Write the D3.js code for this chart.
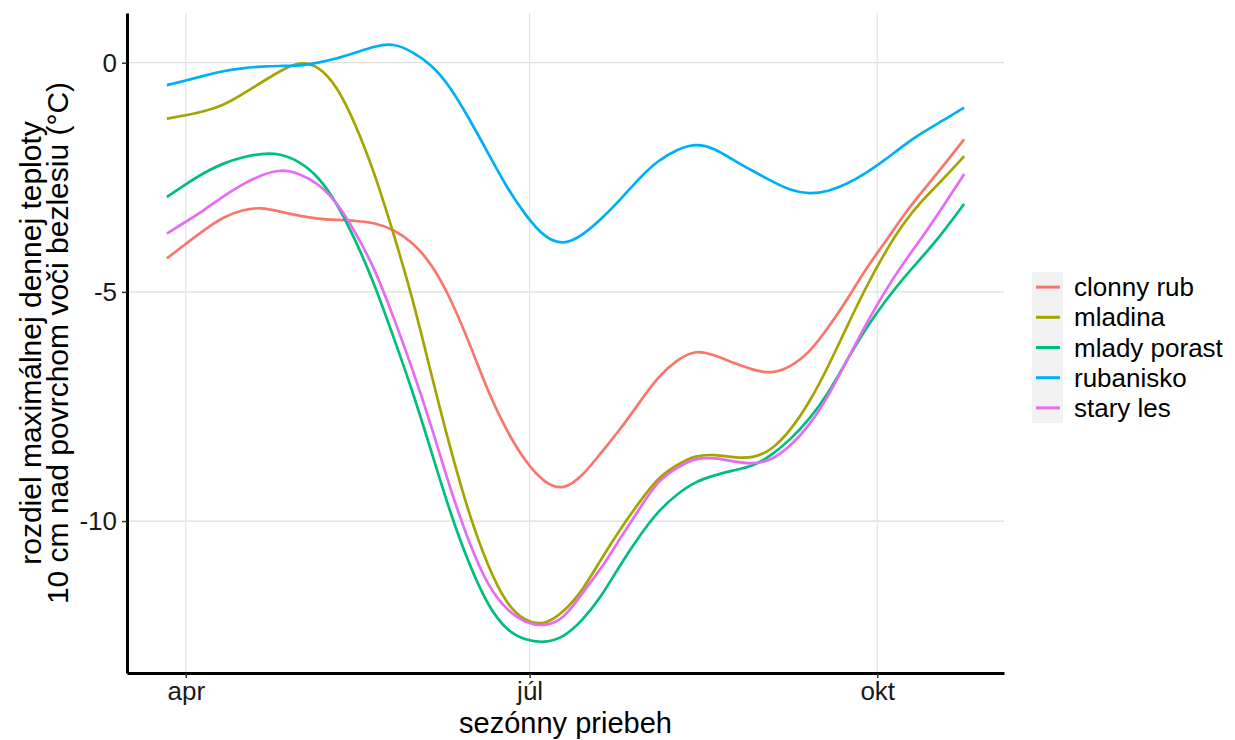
<!DOCTYPE html>
<html>
<head>
<meta charset="utf-8">
<script src="https://cdn.jsdelivr.net/npm/d3@7/dist/d3.min.js"></script>
<style>
  html, body { margin: 0; padding: 0; background: #ffffff; overflow: hidden; }
  svg { display: block; }
  text { font-family: "Liberation Sans", Arial, sans-serif; }
</style>
</head>
<body>
<div id="chart"></div>
<script>
// Sample days along the season (month-day, year is arbitrary)
var sampleDays = ["03-27", "04-01", "04-06", "04-11", "04-16", "04-21", "04-26", "05-01", "05-06", "05-11",
    "05-16", "05-21", "05-26", "05-31", "06-05", "06-10", "06-15", "06-20", "06-25", "06-30",
    "07-05", "07-10", "07-15", "07-20", "07-25", "07-30", "08-04", "08-09", "08-14", "08-19",
    "08-24", "08-29", "09-03", "09-08", "09-13", "09-18", "09-23", "09-28", "10-03", "10-08",
    "10-13", "10-18", "10-24"];

// Series names and their colours (ggplot default hues)
var seriesNames = ["clonny rub", "mladina", "mlady porast", "rubanisko", "stary les"];
var seriesColors = ["#F8766D", "#A3A500", "#00BF7D", "#00B0F6", "#E76BF3"];

// Smoothed difference of max daily temperature (°C)
var clonnyRub = [-4.27, -3.95, -3.64, -3.36, -3.21, -3.15, -3.25, -3.34, -3.41, -3.43,
    -3.45, -3.49, -3.64, -3.91, -4.38, -5.12, -6.10, -7.18, -8.05, -8.72,
    -9.18, -9.33, -9.02, -8.50, -8.00, -7.42, -6.85, -6.48, -6.26, -6.38,
    -6.55, -6.70, -6.79, -6.64, -6.33, -5.79, -5.18, -4.49, -3.93, -3.32,
    -2.80, -2.30, -1.67];
var mladina = [-1.22, -1.15, -1.06, -0.93, -0.69, -0.43, -0.18, 0.03, -0.06, -0.50,
    -1.35, -2.41, -3.73, -5.12, -6.81, -8.42, -9.87, -11.00, -11.84, -12.20,
    -12.27, -11.99, -11.52, -10.82, -10.17, -9.59, -9.05, -8.77, -8.56, -8.55,
    -8.61, -8.63, -8.46, -8.03, -7.42, -6.64, -5.75, -4.90, -4.14, -3.49,
    -2.99, -2.58, -2.04];
var mladyPorast = [-2.93, -2.65, -2.39, -2.19, -2.06, -1.98, -1.98, -2.15, -2.47, -3.06,
    -3.88, -4.84, -5.99, -7.16, -8.48, -9.83, -10.95, -11.86, -12.40, -12.60,
    -12.66, -12.54, -12.17, -11.65, -10.95, -10.33, -9.78, -9.41, -9.13, -9.00,
    -8.89, -8.81, -8.57, -8.22, -7.79, -7.22, -6.49, -5.79, -5.21, -4.69,
    -4.23, -3.75, -3.08];
var rubanisko = [-0.49, -0.39, -0.28, -0.18, -0.12, -0.08, -0.07, -0.07, 0.00, 0.09,
    0.22, 0.36, 0.43, 0.24, -0.04, -0.52, -1.22, -1.97, -2.73, -3.34,
    -3.82, -3.98, -3.77, -3.41, -2.99, -2.52, -2.13, -1.89, -1.76, -1.87,
    -2.13, -2.36, -2.58, -2.79, -2.87, -2.81, -2.65, -2.41, -2.13, -1.80,
    -1.52, -1.28, -0.98];
var staryLes = [-3.73, -3.47, -3.21, -2.91, -2.65, -2.45, -2.32, -2.41, -2.63, -3.04,
    -3.71, -4.49, -5.55, -6.68, -7.92, -9.31, -10.48, -11.43, -11.95, -12.23,
    -12.30, -12.15, -11.56, -11.04, -10.37, -9.74, -9.11, -8.83, -8.62, -8.62,
    -8.70, -8.76, -8.68, -8.37, -7.92, -7.29, -6.49, -5.71, -4.99, -4.36,
    -3.80, -3.19, -2.43];

// Axis ticks
var yTicks = [0, -5, -10];
var yTickLabels = ["0", "-5", "-10"];
var xTickDays = ["04-01", "07-01", "10-01"];
var xTickLabels = ["apr", "júl", "okt"];

var seriesValues = [clonnyRub, mladina, mladyPorast, rubanisko, staryLes];

// Page size and panel edges (absolute page coordinates)
var width = 1235, height = 740;
var panel = { left: 127, right: 1004, top: 13, bottom: 673 };

var parseDay = d3.timeParse("%Y-%m-%d");
var dates = sampleDays.map(d => parseDay("2019-" + d));
var tickDates = xTickDays.map(d => parseDay("2019-" + d));

// ggplot style 5% expansion of both scales
var dateExtent = d3.extent(dates);
var datePad = (dateExtent[1] - dateExtent[0]) * 0.05;
var x = d3.scaleTime()
    .domain([new Date(+dateExtent[0] - datePad), new Date(+dateExtent[1] + datePad)])
    .range([panel.left, panel.right]);

var allValues = [].concat.apply([], seriesValues);
var yMin = d3.min(allValues), yMax = d3.max(allValues);
var yPad = (yMax - yMin) * 0.05;
var y = d3.scaleLinear()
    .domain([yMin - yPad, yMax + yPad])
    .range([panel.bottom, panel.top]);

var svg = d3.select("#chart")
    .append("svg")
    .attr("width", width)
    .attr("height", height)
    .attr("viewBox", `0 0 ${width} ${height}`)
    .style("background", "#ffffff");

// Grid lines
svg.append("g")
    .selectAll("line")
    .data(yTicks)
    .enter().append("line")
    .attr("x1", panel.left).attr("x2", panel.right)
    .attr("y1", d => y(d)).attr("y2", d => y(d))
    .attr("stroke", "#dedede")
    .attr("stroke-width", 1.2);

svg.append("g")
    .selectAll("line")
    .data(tickDates)
    .enter().append("line")
    .attr("x1", d => x(d)).attr("x2", d => x(d))
    .attr("y1", panel.top).attr("y2", panel.bottom)
    .attr("stroke", "#e4e4e4")
    .attr("stroke-width", 1.2);

// Lines (basis curve to get the smooth loess look)
var line = d3.line()
    .x((d, i) => x(dates[i]))
    .y(d => y(d))
    .curve(d3.curveBasis);

svg.append("g")
    .selectAll("path")
    .data(seriesValues)
    .enter().append("path")
    .attr("d", line)
    .attr("fill", "none")
    .attr("stroke", (d, i) => seriesColors[i])
    .attr("stroke-width", 2.7)
    .attr("stroke-linejoin", "round");

// Axes
var yAxis = svg.append("g")
    .attr("transform", `translate(${panel.left}, 0)`)
    .call(d3.axisLeft(y).tickValues(yTicks).tickFormat((d, i) => yTickLabels[i]).tickSize(5).tickSizeOuter(0).tickPadding(5));

var xAxis = svg.append("g")
    .attr("transform", `translate(0, ${panel.bottom})`)
    .call(d3.axisBottom(x).tickValues(tickDates).tickFormat((d, i) => xTickLabels[i]).tickSize(5).tickSizeOuter(0).tickPadding(4));

[yAxis, xAxis].forEach(function (ax) {
    ax.attr("font-size", null).attr("font-family", null);
    ax.select(".domain").attr("stroke", "#000").attr("stroke-width", 3);
    ax.selectAll(".tick line").attr("stroke", "#333").attr("stroke-width", 1.5);
    ax.selectAll(".tick text")
        .attr("fill", "#1a1a1a")
        .attr("font-size", 26);
});

// Axis titles
svg.append("text")
    .attr("x", (panel.left + panel.right) / 2)
    .attr("y", 733)
    .attr("text-anchor", "middle")
    .attr("fill", "#000")
    .attr("font-size", 29)
    .text("sezónny priebeh");

var yMid = (panel.top + panel.bottom) / 2;
svg.append("text")
    .attr("transform", `translate(41, ${yMid}) rotate(-90)`)
    .attr("text-anchor", "middle")
    .attr("fill", "#000")
    .attr("font-size", 30)
    .text("rozdiel maximálnej dennej teploty");

svg.append("text")
    .attr("transform", `translate(68, ${yMid}) rotate(-90)`)
    .attr("text-anchor", "middle")
    .attr("fill", "#000")
    .attr("font-size", 30)
    .text("10 cm nad povrchom voči bezlesiu (°C)");

// Legend
var legend = svg.append("g").attr("transform", "translate(1032, 272)");
var rowH = 30.2;

legend.append("rect")
    .attr("width", 31)
    .attr("height", rowH * seriesNames.length)
    .attr("fill", "#f2f2f2");

var rows = legend.selectAll("g.row")
    .data(seriesNames)
    .enter().append("g")
    .attr("class", "row")
    .attr("transform", (d, i) => `translate(0, ${rowH * i + rowH / 2})`);

rows.append("line")
    .attr("x1", 4).attr("x2", 28)
    .attr("stroke", (d, i) => seriesColors[i])
    .attr("stroke-width", 3);

rows.append("text")
    .attr("x", 42)
    .attr("dy", "0.35em")
    .attr("fill", "#000")
    .attr("font-size", 26)
    .text(d => d);
</script>
</body>
</html>
